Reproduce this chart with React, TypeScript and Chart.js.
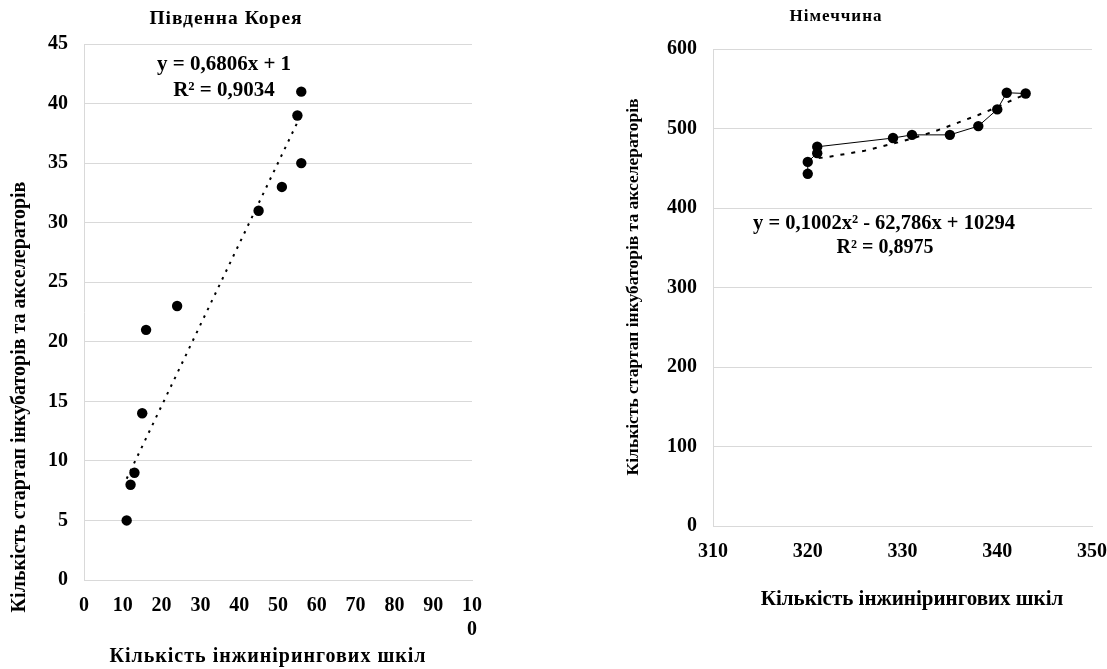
import React, { useEffect, useRef } from 'react';
import { Chart, registerables } from 'chart.js';

Chart.register(...registerables);

// ---------- Data: South Korea ----------
const koreaSchools = [11, 12, 13, 15, 16, 24, 45, 51, 55, 56, 56];
const koreaStartups = [5, 8, 9, 14, 21, 23, 31, 33, 39, 35, 41];
const koreaTrendX = [11, 56];
const koreaTrendY = [8.5, 39.1];
const koreaXTickLabels: (string | string[])[] = ['0', '10', '20', '30', '40', '50', '60', '70', '80', '90', ['10', '0']];
const koreaTitle = 'Південна Корея';
const koreaEquation = 'y = 0,6806x + 1';
const koreaR2 = 'R² = 0,9034';

// ---------- Data: Germany ----------
const germanySchools = [320, 320, 321, 321, 329, 331, 335, 338, 340, 341, 343];
const germanyStartups = [443, 458, 469, 477, 488, 492, 492, 503, 524, 545, 544];
const germanyTrendX = [320, 322, 324, 326, 328, 330, 332, 334, 336, 338, 340, 342, 343];
const germanyTrendY = [461, 464, 468, 472, 478, 484, 491, 499, 508, 517, 527, 538, 543];
const germanyTitle = 'Німеччина';
const germanyEquation = 'y = 0,1002x² - 62,786x + 10294';
const germanyR2 = 'R² = 0,8975';

const yAxisTitle = 'Кількість стартап інкубаторів та акселераторів';
const xAxisTitle = 'Кількість інжинірингових шкіл';

const FONT = '"Liberation Serif", "Times New Roman", serif';
const GRID = '#d9d9d9';

type TextItem = { text: string; x: number; y: number; size: number; rotate?: boolean; spacing?: number };

function textPlugin(items: TextItem[]) {
  return {
    id: 'texts',
    afterDraw(chart: any) {
      const ctx = chart.ctx as CanvasRenderingContext2D;
      for (const t of items) {
        ctx.save();
        ctx.font = `bold ${t.size}px ${FONT}`;
        ctx.fillStyle = '#000';
        ctx.textAlign = 'center';
        ctx.textBaseline = 'middle';
        (ctx as any).letterSpacing = (t.spacing || 0) + 'px';
        ctx.translate(t.x, t.y);
        if (t.rotate) ctx.rotate(-Math.PI / 2);
        ctx.fillText(t.text, 0, 0);
        ctx.restore();
      }
    },
  };
}

function zip(xs: number[], ys: number[]) {
  return xs.map((x, i) => ({ x, y: ys[i] }));
}

type Cfg = {
  points: { x: number; y: number }[];
  trend: { x: number; y: number }[];
  connect: boolean;
  trendDash: number[];
  trendWidth: number;
  xMin: number; xMax: number; xStep: number;
  yMin: number; yMax: number; yStep: number;
  xLabels?: (string | string[])[];
  padding: { left: number; right: number; top: number; bottom: number };
  yAxisWidth: number;
  xAxisHeight: number;
  texts: TextItem[];
};

function makeChart(canvas: HTMLCanvasElement, c: Cfg) {
  return new Chart(canvas, {
    type: 'scatter',
    data: {
      datasets: [
        {
          data: c.points,
          showLine: c.connect,
          borderColor: '#000',
          borderWidth: 1,
          backgroundColor: '#000',
          pointBackgroundColor: '#000',
          pointBorderWidth: 0,
          pointRadius: 5.2,
        },
        {
          data: c.trend,
          showLine: true,
          borderColor: '#000',
          borderWidth: c.trendWidth,
          borderDash: c.trendDash,
          pointRadius: 0,
          fill: false,
        },
      ],
    },
    options: {
      animation: false,
      responsive: false,
      events: [],
      layout: { padding: c.padding },
      plugins: { legend: { display: false }, tooltip: { enabled: false }, title: { display: false } },
      scales: {
        x: {
          type: 'linear',
          min: c.xMin,
          max: c.xMax,
          grid: { display: false, drawTicks: false },
          border: { display: true, color: GRID, width: 1 },
          ticks: {
            stepSize: c.xStep,
            color: '#000',
            padding: 14,
            maxRotation: 0,
            autoSkip: false,
            font: { family: FONT, size: 20, weight: 'bold', lineHeight: 1.2 },
            callback: (v: any, i: number) => (c.xLabels ? c.xLabels[i] : String(v)),
          },
          afterFit: (s: any) => {
            s.height = c.xAxisHeight;
            s.paddingLeft = 0;
            s.paddingRight = 0;
          },
        },
        y: {
          type: 'linear',
          min: c.yMin,
          max: c.yMax,
          grid: { color: GRID, lineWidth: 1, drawTicks: false },
          border: { display: true, color: GRID, width: 1 },
          ticks: {
            stepSize: c.yStep,
            color: '#000',
            padding: 16,
            font: { family: FONT, size: 20, weight: 'bold' },
          },
          afterFit: (s: any) => {
            s.width = c.yAxisWidth;
            s.paddingTop = 0;
            s.paddingBottom = 0;
          },
        },
      },
    } as any,
    plugins: [textPlugin(c.texts)],
  });
}

export default function App() {
  const leftRef = useRef<HTMLCanvasElement>(null);
  const rightRef = useRef<HTMLCanvasElement>(null);

  useEffect(() => {
    const left = makeChart(leftRef.current!, {
      points: zip(koreaSchools, koreaStartups),
      trend: zip(koreaTrendX, koreaTrendY),
      connect: false,
      trendDash: [2.5, 6],
      trendWidth: 2,
      xMin: 0, xMax: 100, xStep: 10,
      yMin: 0, yMax: 45, yStep: 5,
      xLabels: koreaXTickLabels,
      padding: { left: 0, right: 78, top: 44, bottom: 0 },
      yAxisWidth: 84,
      xAxisHeight: 89,
      texts: [
        { text: koreaTitle, x: 226, y: 19, size: 19.5, spacing: 1 },
        { text: koreaEquation, x: 224, y: 65, size: 21 },
        { text: koreaR2, x: 224, y: 91, size: 21 },
        { text: yAxisTitle, x: 20, y: 397, size: 20, rotate: true },
        { text: xAxisTitle, x: 268, y: 657, size: 20, spacing: 1 },
      ],
    });
    const right = makeChart(rightRef.current!, {
      points: zip(germanySchools, germanyStartups),
      trend: zip(germanyTrendX, germanyTrendY),
      connect: true,
      trendDash: [4, 7],
      trendWidth: 2,
      xMin: 310, xMax: 350, xStep: 10,
      yMin: 0, yMax: 600, yStep: 100,
      padding: { left: 0, right: 15, top: 49, bottom: 0 },
      yAxisWidth: 163,
      xAxisHeight: 143,
      texts: [
        { text: germanyTitle, x: 286, y: 17, size: 17, spacing: 1 },
        { text: germanyEquation, x: 334, y: 224, size: 20.5 },
        { text: germanyR2, x: 335, y: 248, size: 20 },
        { text: yAxisTitle, x: 83, y: 287, size: 17.5, rotate: true },
        { text: xAxisTitle, x: 362, y: 600, size: 21 },
      ],
    });
    return () => {
      left.destroy();
      right.destroy();
    };
  }, []);

  return (
    <div style={{ position: 'absolute', left: 0, top: 0, width: 1107, height: 669, background: '#fff', overflow: 'hidden' }}>
      <canvas ref={leftRef} width={550} height={669} style={{ position: 'absolute', left: 0, top: 0 }} />
      <canvas ref={rightRef} width={557} height={669} style={{ position: 'absolute', left: 550, top: 0 }} />
    </div>
  );
}
